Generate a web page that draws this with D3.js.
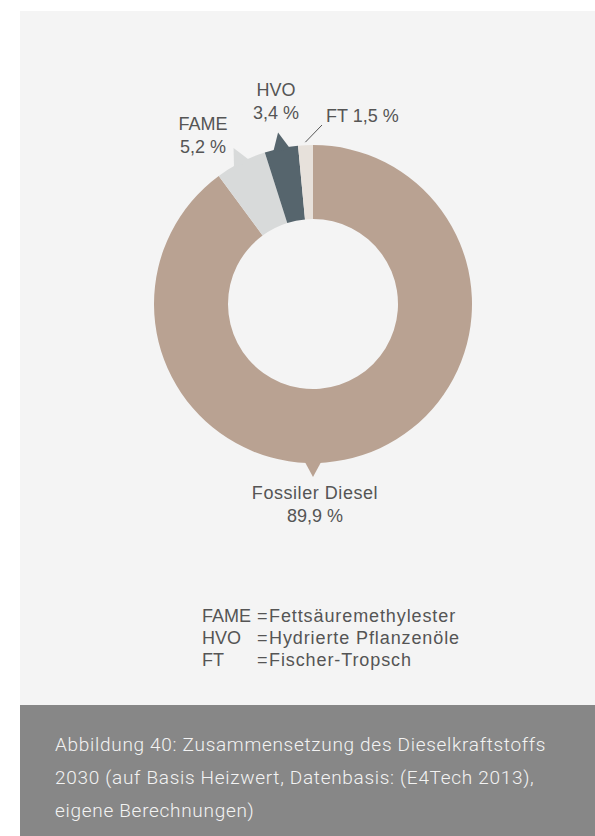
<!DOCTYPE html>
<html>
<head>
<meta charset="utf-8">
<script src="https://cdn.jsdelivr.net/npm/d3@7/dist/d3.min.js"></script>
<style>
  html, body { margin: 0; padding: 0; background: #ffffff; }
  svg { display: block; }
  .lbl { font-family: "Liberation Sans", Arial, sans-serif; font-size: 18px; fill: #555555; }
  .wide { letter-spacing: 0.55px; }
  .legname { letter-spacing: 0.9px; }
  .cap { font-family: Roboto, "Liberation Sans", sans-serif; font-weight: 300; font-size: 19px; letter-spacing: 0.7px; fill: #f3f3f3; }
</style>
</head>
<body>
<svg id="chart" width="595" height="836"></svg>
<script>
// Composition of diesel fuel 2030 (share by heating value, %)
const categories = ["Fossiler Diesel", "FAME", "HVO", "FT"];
const shares = [89.9, 5.2, 3.4, 1.5];
const shareLabels = ["89,9 %", "5,2 %", "3,4 %", "1,5 %"];
const colors = ["#b9a292", "#d8dada", "#56656d", "#e7e1db"];

const legendKeys = ["FAME", "HVO", "FT"];
const legendNames = ["Fettsäuremethylester", "Hydrierte Pflanzenöle", "Fischer-Tropsch"];

const captionLines = [
  "Abbildung 40: Zusammensetzung des Dieselkraftstoffs",
  "2030 (auf Basis Heizwert, Datenbasis: (E4Tech 2013),",
  "eigene Berechnungen)"
];

const svg = d3.select("#chart");
const W = 595, H = 836;

// background panels
svg.append("rect").attr("x", 20).attr("y", 11).attr("width", W - 20).attr("height", 694).attr("fill", "#f4f4f4");
svg.append("rect").attr("x", 20).attr("y", 705).attr("width", W - 20).attr("height", H - 705).attr("fill", "#878787");

const cx = 313, cy = 304, R = 159, r = 85;
const g = svg.append("g").attr("transform", `translate(${cx},${cy})`);

const pie = d3.pie().sort(null).value(d => d.value).startAngle(0).endAngle(2 * Math.PI);
const data = categories.map((c, i) => ({ name: c, value: shares[i], label: shareLabels[i], color: colors[i] }));
const arcs = pie(data);
const arc = d3.arc().innerRadius(r).outerRadius(R);

g.selectAll("path.slice")
  .data(arcs)
  .enter().append("path")
  .attr("class", "slice")
  .attr("d", arc)
  .attr("fill", d => d.data.color);

// callout pointers on the outer edge of labelled slices
const polar = (a, rad) => [Math.sin(a) * rad, -Math.cos(a) * rad];
const pointerSpec = {
  "Fossiler Diesel": { angle: Math.PI, len: 14 },
  "FAME": { angle: null, len: 16 },
  "HVO": { angle: null, len: 16 }
};
const halfW = 3.2 * Math.PI / 180;
arcs.forEach(d => {
  const spec = pointerSpec[d.data.name];
  if (!spec) return;
  const a = spec.angle == null ? (d.startAngle + d.endAngle) / 2 : spec.angle;
  const p1 = polar(a - halfW, R - 2), p2 = polar(a + halfW, R - 2), tip = polar(a, R + spec.len);
  g.append("path")
    .attr("d", d3.line()([p1, tip, p2]) + "Z")
    .attr("fill", d.data.color);
});

// labels
const labelPos = {
  "Fossiler Diesel": [2, 195, 218],
  "FAME": [-110, -174, -151],
  "HVO": [-37, -208, -185]
};
arcs.forEach(d => {
  const pos = labelPos[d.data.name];
  if (!pos) return;
  const t = g.append("text").attr("class", "lbl").attr("text-anchor", "middle");
  t.append("tspan").attr("class", d.data.name === "Fossiler Diesel" ? "wide" : null)
    .attr("x", pos[0]).attr("y", pos[1]).text(d.data.name);
  t.append("tspan").attr("x", pos[0]).attr("y", pos[2]).text(d.data.label);
});

// FT: leader line and inline label
const ft = arcs.find(d => d.data.name === "FT");
const ftA = (ft.startAngle + ft.endAngle) / 2;
const l0 = polar(ftA, R + 3);
g.append("line")
  .attr("x1", l0[0]).attr("y1", l0[1])
  .attr("x2", 9).attr("y2", -179)
  .attr("stroke", "#555555").attr("stroke-width", 1);
g.append("text").attr("class", "lbl")
  .attr("x", 13).attr("y", -182)
  .text(ft.data.name + " " + ft.data.label);

// abbreviations legend
const leg = svg.append("g").attr("transform", "translate(202,622)");
legendKeys.forEach((k, i) => {
  const y = i * 22;
  leg.append("text").attr("class", "lbl").attr("x", 0).attr("y", y).text(k);
  leg.append("text").attr("class", "lbl").attr("x", 55).attr("y", y).text("=");
  leg.append("text").attr("class", "lbl legname").attr("x", 67).attr("y", y).text(legendNames[i]);
});

// caption
captionLines.forEach((line, i) => {
  svg.append("text").attr("class", "cap")
    .attr("x", 55).attr("y", 751 + i * 33)
    .text(line);
});
</script>
</body>
</html>
